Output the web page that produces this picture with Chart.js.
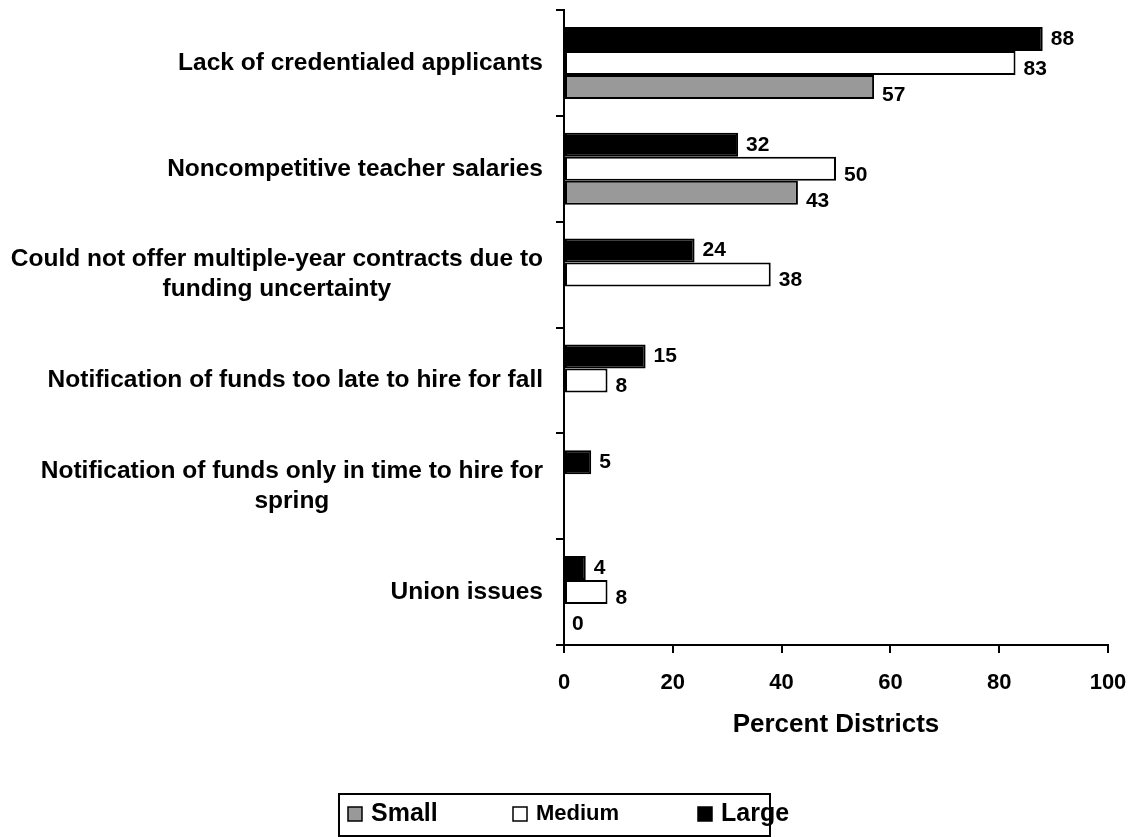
<!DOCTYPE html>
<html>
<head>
<meta charset="utf-8">
<script src="https://cdn.jsdelivr.net/npm/chart.js@4.4.1/dist/chart.umd.min.js"></script>
<style>
  html, body { margin: 0; padding: 0; background: #fff; }
  #wrap { width: 1135px; height: 837px; }
</style>
</head>
<body>
<div id="wrap"><canvas id="barChart" width="1135" height="837"></canvas></div>
<script>
let categories = [
    ['Lack of credentialed applicants'],
    ['Noncompetitive teacher salaries'],
    ['Could not offer multiple-year contracts due to', 'funding uncertainty'],
    ['Notification of funds too late to hire for fall'],
    ['Notification of funds only in time to hire for', 'spring'],
    ['Union issues']
];

let large = [88, 32, 24, 15, 5, 4];
let medium = [83, 50, 38, 8, null, 8];
let small = [57, 43, null, null, null, 0];

let xTicks = [0, 20, 40, 60, 80, 100];

let seriesNames = ['Large', 'Medium', 'Small'];
let colors = ['#000000', '#FFFFFF', '#999999'];

const FONT = '"Liberation Sans", Arial, Helvetica, sans-serif';

// category text: block right aligned to the axis, lines centered inside the block
const categoryLabels = {
    id: 'categoryLabels',
    afterDraw(chart) {
        let ctx = chart.ctx;
        let yScale = chart.scales.y;
        let rightEdge = yScale.right - 21;
        let lh = 30;
        ctx.save();
        ctx.font = 'bold 24.5px ' + FONT;
        ctx.fillStyle = '#000';
        ctx.textAlign = 'center';
        ctx.textBaseline = 'middle';
        categories.forEach((lines, i) => {
            let y = yScale.getPixelForValue(i);
            let maxW = Math.max(...lines.map(l => ctx.measureText(l).width));
            let cx = rightEdge - maxW / 2;
            lines.forEach((line, j) => {
                ctx.fillText(line, cx, y + (j - (lines.length - 1) / 2) * lh);
            });
        });
        ctx.restore();
    }
};

// numbers at the end of each bar
const valueLabels = {
    id: 'valueLabels',
    afterDatasetsDraw(chart) {
        let ctx = chart.ctx;
        let shift = [0, 6, 8];
        ctx.save();
        ctx.font = 'bold 21px ' + FONT;
        ctx.fillStyle = '#000';
        ctx.textAlign = 'left';
        ctx.textBaseline = 'middle';
        chart.data.datasets.forEach((ds, d) => {
            chart.getDatasetMeta(d).data.forEach((bar, i) => {
                let v = ds.data[i];
                if (v === null || v === undefined) return;
                ctx.fillText(String(v), bar.x + 8, bar.y + shift[d]);
            });
        });
        ctx.restore();
    }
};

// boxed legend under the chart (Small, Medium, Large)
const boxLegend = {
    id: 'boxLegend',
    afterDraw(chart) {
        let ctx = chart.ctx;
        ctx.save();
        ctx.strokeStyle = '#000';
        ctx.lineWidth = 2;
        ctx.strokeRect(339, 794, 431, 42);
        let items = [
            { idx: 2, x: 348, size: 25 },
            { idx: 1, x: 513, size: 22 },
            { idx: 0, x: 698, size: 25 }
        ];
        items.forEach(it => {
            ctx.fillStyle = colors[it.idx];
            ctx.fillRect(it.x, 807, 14, 14);
            ctx.lineWidth = 1.5;
            ctx.strokeRect(it.x, 807, 14, 14);
            ctx.fillStyle = '#000';
            ctx.font = 'bold ' + it.size + 'px ' + FONT;
            ctx.textAlign = 'left';
            ctx.textBaseline = 'middle';
            ctx.fillText(seriesNames[it.idx], it.x + 23, 814);
        });
        ctx.restore();
    }
};

let ctx = document.getElementById('barChart').getContext('2d');
let barChart = new Chart(ctx, {
    type: 'bar',
    data: {
        labels: categories.map(c => c.join(' ')),
        datasets: [large, medium, small].map((vals, d) => ({
            label: seriesNames[d],
            data: vals,
            backgroundColor: colors[d],
            borderColor: '#000000',
            borderWidth: 2,
            borderSkipped: false,
            categoryPercentage: 0.68,
            barPercentage: 1.0
        }))
    },
    options: {
        indexAxis: 'y',
        responsive: false,
        animation: false,
        layout: { padding: { top: 10, right: 27, bottom: 92, left: 0 } },
        plugins: {
            legend: { display: false },
            tooltip: { enabled: false }
        },
        scales: {
            x: {
                min: 0,
                max: 100,
                afterBuildTicks(scale) {
                    scale.ticks = xTicks.map(v => ({ value: v }));
                },
                afterFit(scale) {
                    scale.height = 100;
                    scale.paddingLeft = 0;
                    scale.paddingRight = 0;
                },
                grid: {
                    drawOnChartArea: false,
                    drawTicks: true,
                    tickLength: 8,
                    color: '#000',
                    lineWidth: 2
                },
                border: { color: '#000', width: 2 },
                ticks: {
                    color: '#000',
                    padding: 17,
                    maxRotation: 0,
                    font: { family: FONT, size: 22, weight: 'bold' }
                },
                title: {
                    display: true,
                    text: 'Percent Districts',
                    color: '#000',
                    padding: { top: 0, bottom: 5 },
                    font: { family: FONT, size: 26, weight: 'bold' }
                }
            },
            y: {
                afterFit(scale) { scale.width = 564; },
                grid: {
                    offset: true,
                    drawOnChartArea: false,
                    drawTicks: true,
                    tickLength: 8,
                    color: '#000',
                    lineWidth: 2
                },
                border: { color: '#000', width: 2 },
                ticks: { display: false }
            }
        }
    },
    plugins: [categoryLabels, valueLabels, boxLegend]
});
</script>
</body>
</html>
